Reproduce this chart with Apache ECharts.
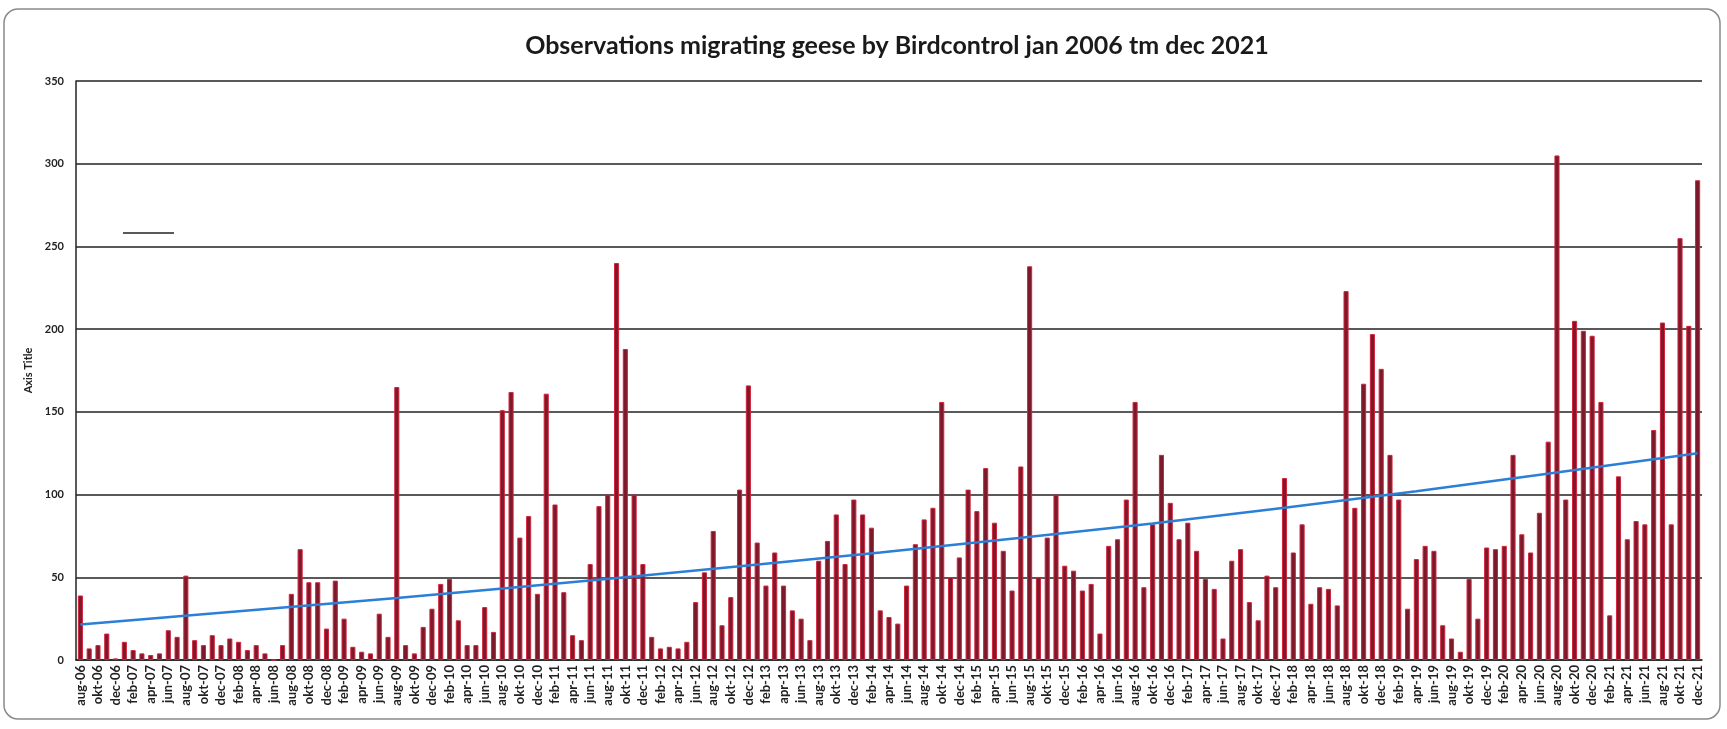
<!DOCTYPE html>
<html>
<head>
<meta charset="utf-8">
<script src="https://cdn.jsdelivr.net/npm/echarts@6/dist/echarts.min.js"></script>
<style>
html,body{margin:0;padding:0;background:#fff;}
#c{width:1727px;height:729px;}
</style>
</head>
<body>
<div id="c"></div>
<script>
// Dutch month names (categories are month-year, aug-06 .. dec-21)
const monthNames = ['jan','feb','mrt','apr','mei','jun','jul','aug','sep','okt','nov','dec'];
const firstYear = 2006, firstMonthIndex = 7; // aug 2006

// Monthly observations per year
const y2006 = [39, 7, 9, 16, 1]; // aug-dec
const y2007 = [11, 6, 4, 3, 4, 18, 14, 51, 12, 9, 15, 9];
const y2008 = [13, 11, 6, 9, 4, 0, 9, 40, 67, 47, 47, 19];
const y2009 = [48, 25, 8, 5, 4, 28, 14, 165, 9, 4, 20, 31];
const y2010 = [46, 49, 24, 9, 9, 32, 17, 151, 162, 74, 87, 40];
const y2011 = [161, 94, 41, 15, 12, 58, 93, 100, 240, 188, 100, 58];
const y2012 = [14, 7, 8, 7, 11, 35, 53, 78, 21, 38, 103, 166];
const y2013 = [71, 45, 65, 45, 30, 25, 12, 60, 72, 88, 58, 97];
const y2014 = [88, 80, 30, 26, 22, 45, 70, 85, 92, 156, 50, 62];
const y2015 = [103, 90, 116, 83, 66, 42, 117, 238, 50, 74, 100, 57];
const y2016 = [54, 42, 46, 16, 69, 73, 97, 156, 44, 82, 124, 95];
const y2017 = [73, 83, 66, 49, 43, 13, 60, 67, 35, 24, 51, 44];
const y2018 = [110, 65, 82, 34, 44, 43, 33, 223, 92, 167, 197, 176];
const y2019 = [124, 97, 31, 61, 69, 66, 21, 13, 5, 49, 25, 68];
const y2020 = [67, 69, 124, 76, 65, 89, 132, 305, 97, 205, 199, 196];
const y2021 = [156, 27, 111, 73, 84, 82, 139, 204, 82, 255, 202, 290];

// Trend line points
const trendMonths = ['aug-06', 'aug-09', 'okt-11', 'mrt-14', 'okt-16', 'apr-19', 'dec-21'];
const trendValues = [21.5, 37.5, 50, 65, 82.5, 102, 125];

// Y axis ticks
const yMin = 0, yMax = 350, yStep = 50;

const observations = [].concat(y2006, y2007, y2008, y2009, y2010, y2011, y2012, y2013,
  y2014, y2015, y2016, y2017, y2018, y2019, y2020, y2021);

const categories = [];
for (let i = 0; i < observations.length; i++) {
  const m = (firstMonthIndex + i) % 12;
  const yr = firstYear + Math.floor((firstMonthIndex + i) / 12);
  categories.push(monthNames[m] + '-' + String(yr % 100).padStart(2, '0'));
}
const trend = trendMonths.map((m, i) => [m, trendValues[i]]);

const chart = echarts.init(document.getElementById('c'), null, {renderer: 'canvas'});
chart.setOption({
  backgroundColor: '#ffffff',
  animation: false,
  title: {
    text: 'Observations migrating geese by Birdcontrol jan 2006 tm dec 2021',
    left: 892, top: 28, textAlign: 'center',
    textStyle: {fontFamily: 'Lato', fontWeight: 'bold', fontSize: 25, color: '#1a1a1a'}
  },
  graphic: [
    {type: 'rect', shape: {x: 4, y: 9, width: 1716, height: 710, r: 14},
     style: {fill: 'none', stroke: '#8a8a8a', lineWidth: 1.5}, silent: true, z: -1},
    {type: 'line', shape: {x1: 123, y1: 233, x2: 174, y2: 233},
     style: {stroke: '#222', lineWidth: 1.5}, silent: true}
  ],
  grid: {left: 76, right: 25, top: 81, bottom: 69, containLabel: false},
  xAxis: {
    type: 'category',
    data: categories,
    boundaryGap: true,
    axisTick: {show: false},
    axisLine: {show: true, lineStyle: {color: '#222', width: 1.5}},
    axisLabel: {
      interval: 1, rotate: 90, fontSize: 13, fontWeight: 'bold',
      fontFamily: 'Lato', color: '#222', margin: 5
    }
  },
  yAxis: {
    type: 'value',
    min: yMin, max: yMax, interval: yStep,
    name: 'Axis Title',
    nameLocation: 'middle', nameGap: 42, nameRotate: 90,
    nameTextStyle: {fontFamily: 'Lato', fontWeight: 'bold', fontSize: 11, color: '#222'},
    axisLine: {show: true, lineStyle: {color: '#222', width: 1.5}},
    axisTick: {show: false},
    splitLine: {show: true, lineStyle: {color: '#222', width: 1.5}},
    axisLabel: {fontFamily: 'Lato', fontWeight: 'bold', fontSize: 11, color: '#222', margin: 12}
  },
  series: [
    {
      type: 'bar',
      data: observations,
      barWidth: '58%',
      itemStyle: {color: '#7a1a2b', borderColor: '#d4233c', borderWidth: 1}
    },
    {
      type: 'line',
      data: trend,
      symbol: 'none',
      smooth: 0.3,
      lineStyle: {color: '#2b7fd6', width: 2.5},
      z: 5
    }
  ]
});
</script>
</body>
</html>
